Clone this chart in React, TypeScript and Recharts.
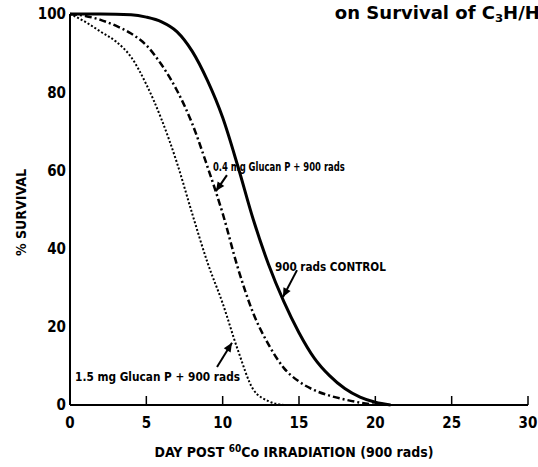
import React from "react";
import {
  LineChart,
  Line,
  XAxis,
  YAxis,
  ReferenceLine,
  ReferenceDot,
  Label,
} from "recharts";

// ---- data ----
const xTicks = [0, 5, 10, 15, 20, 25, 30];
const yTicks = [0, 20, 40, 60, 80, 100];

const controlDays = [0, 2, 4, 5, 6, 7, 8, 9, 10, 11, 12, 13, 14, 15, 16, 17, 18, 19, 20, 21];
const controlSurv = [100, 100, 99.8, 99.2, 98, 95.5, 90.5, 83, 73.5, 61, 47.5, 36, 26.5, 18.5, 12, 7.5, 4.2, 2, 0.7, 0];

const lowDoseDays = [0, 1, 2, 3, 4, 5, 6, 7, 8, 9, 10, 11, 12, 13, 14, 15, 16, 17, 18, 19, 20];
const lowDoseSurv = [100, 99.5, 98.5, 97, 95, 92, 87, 80.5, 72, 61, 49, 35, 23.5, 15.5, 9.5, 6, 3.8, 2.4, 1.4, 0.6, 0];

const highDoseDays = [0, 1, 2, 3, 4, 5, 6, 7, 8, 9, 10, 11, 12, 13, 14];
const highDoseSurv = [100, 98, 95.5, 93, 89, 82, 73, 62, 49, 36.5, 26, 14, 4, 1, 0];

const titleText = "on Survival of C";
const labelLow = "0.4 mg Glucan P + 900 rads";
const labelControl = "900 rads CONTROL";
const labelHigh = "1.5 mg Glucan P + 900 rads";

const toRows = (xs: number[], ys: number[]) => xs.map((d, i) => ({ day: d, v: ys[i] }));
const controlData = toRows(controlDays, controlSurv);
const lowData = toRows(lowDoseDays, lowDoseSurv);
const highData = toRows(highDoseDays, highDoseSurv);

// annotation anchors in data units
const annLow = { x: 9.36, y: 60.9 };
const annControl = { x: 13.42, y: 35.5 };
const annHigh = { x: 0.33, y: 7.4 };
const annTitle = { x: 17.35, y: 98.7 };
const arrows = [
  { from: { x: 10.28, y: 58.8 }, to: { x: 9.56, y: 54.7 }, angle: 124 },
  { from: { x: 14.87, y: 34.5 }, to: { x: 13.95, y: 27.6 }, angle: 117 },
  { from: { x: 9.63, y: 9.7 }, to: { x: 10.61, y: 15.9 }, angle: -58 },
];

// ---- style ----
const FONT = "'Liberation Sans Narrow', 'DejaVu Sans Condensed', 'Liberation Sans', sans-serif";
const INK = "#000";
const TM = 12;

const XTick = (props: any) => {
  const { x, y, payload } = props;
  return (
    <g>
      {payload.value !== 0 && (
        <line x1={x} x2={x} y1={y - TM} y2={y - TM - 9} stroke={INK} strokeWidth={1.5} />
      )}
      <text
        x={x}
        y={y}
        dy="0.71em"
        textAnchor="middle"
        fontFamily={FONT}
        fontWeight="bold"
        fontSize={15}
        fill={INK}
      >
        {payload.value}
      </text>
    </g>
  );
};

const textShape = (txt: string, len: number, size: number) => (p: any) => (
  <text
    x={p.cx}
    y={p.cy}
    dominantBaseline="central"
    fontFamily={FONT}
    fontWeight="bold"
    fontSize={size}
    fill={INK}
    textLength={len}
    lengthAdjust="spacingAndGlyphs"
  >
    {txt}
  </text>
);

const titleShape = (p: any) => (
  <text
    x={p.cx}
    y={p.cy}
    fontFamily={FONT}
    fontWeight="bold"
    fontSize={17}
    fill={INK}
    textLength={205}
    lengthAdjust="spacingAndGlyphs"
  >
    <tspan>{titleText}</tspan>
    <tspan fontSize={11} dy={3}>3</tspan>
    <tspan dy={-3}>H/H</tspan>
  </text>
);

const arrowHead = (angle: number) => (p: any) => (
  <polygon
    points="0,0 -9,-4 -9,4"
    fill={INK}
    transform={`translate(${p.cx},${p.cy}) rotate(${angle})`}
  />
);

const XLabel = (props: any) => {
  const vb = props.viewBox;
  return (
    <text
      x={vb.x + vb.width / 2 - 5}
      y={vb.y + 47}
      textAnchor="middle"
      dominantBaseline="central"
      fontFamily={FONT}
      fontWeight="bold"
      fontSize={14}
      fill={INK}
    >
      DAY POST <tspan fontSize={10} dy={-4}>60</tspan>
      <tspan dy={4}>Co IRRADIATION (900 rads)</tspan>
    </text>
  );
};

const YLabel = (props: any) => {
  const vb = props.viewBox;
  const cx = vb.x + 21;
  const cy = vb.y + vb.height / 2 + 3;
  return (
    <text
      x={cx}
      y={cy}
      transform={`rotate(-90 ${cx} ${cy})`}
      textAnchor="middle"
      dominantBaseline="central"
      fontFamily={FONT}
      fontWeight="bold"
      fontSize={14}
      fill={INK}
    >
      % SURVIVAL
    </text>
  );
};

export default function App() {
  return (
    <div style={{ position: "absolute", left: 0, top: 0, background: "#fff" }}>
      <LineChart width={538} height={467} margin={{ top: 14, right: 10, left: 0, bottom: 0 }}>
        <XAxis
          dataKey="day"
          type="number"
          domain={[0, 30]}
          ticks={xTicks}
          allowDuplicatedCategory={false}
          height={62}
          tickSize={0}
          tickMargin={TM}
          tickLine={false}
          axisLine={{ stroke: INK, strokeWidth: 2 }}
          tick={<XTick />}
        >
          <Label content={<XLabel />} />
        </XAxis>
        <YAxis
          type="number"
          domain={[0, 100]}
          ticks={yTicks}
          width={70}
          tickSize={0}
          tickMargin={4}
          tickLine={false}
          axisLine={{ stroke: INK, strokeWidth: 2 }}
          tick={{ fontFamily: FONT, fontWeight: "bold", fontSize: 15, fill: INK }}
        >
          <Label content={<YLabel />} />
        </YAxis>

        <Line
          data={controlData}
          dataKey="v"
          type="monotone"
          stroke={INK}
          strokeWidth={3}
          dot={false}
          isAnimationActive={false}
        />
        <Line
          data={lowData}
          dataKey="v"
          type="monotone"
          stroke={INK}
          strokeWidth={2.5}
          strokeDasharray="7 3 2 3"
          dot={false}
          isAnimationActive={false}
        />
        <Line
          data={highData}
          dataKey="v"
          type="monotone"
          stroke={INK}
          strokeWidth={2}
          strokeDasharray="2 2"
          dot={false}
          isAnimationActive={false}
        />

        {arrows.map((a, i) => (
          <ReferenceLine key={`al${i}`} segment={[a.from, a.to]} stroke={INK} strokeWidth={2} />
        ))}
        {arrows.map((a, i) => (
          <ReferenceDot key={`ah${i}`} x={a.to.x} y={a.to.y} r={0} shape={arrowHead(a.angle)} />
        ))}

        <ReferenceDot x={annLow.x} y={annLow.y} r={0} shape={textShape(labelLow, 132, 13)} />
        <ReferenceDot x={annControl.x} y={annControl.y} r={0} shape={textShape(labelControl, 111, 13)} />
        <ReferenceDot x={annHigh.x} y={annHigh.y} r={0} shape={textShape(labelHigh, 165, 13)} />
        <ReferenceDot x={annTitle.x} y={annTitle.y} r={0} shape={titleShape} />
      </LineChart>
    </div>
  );
}
